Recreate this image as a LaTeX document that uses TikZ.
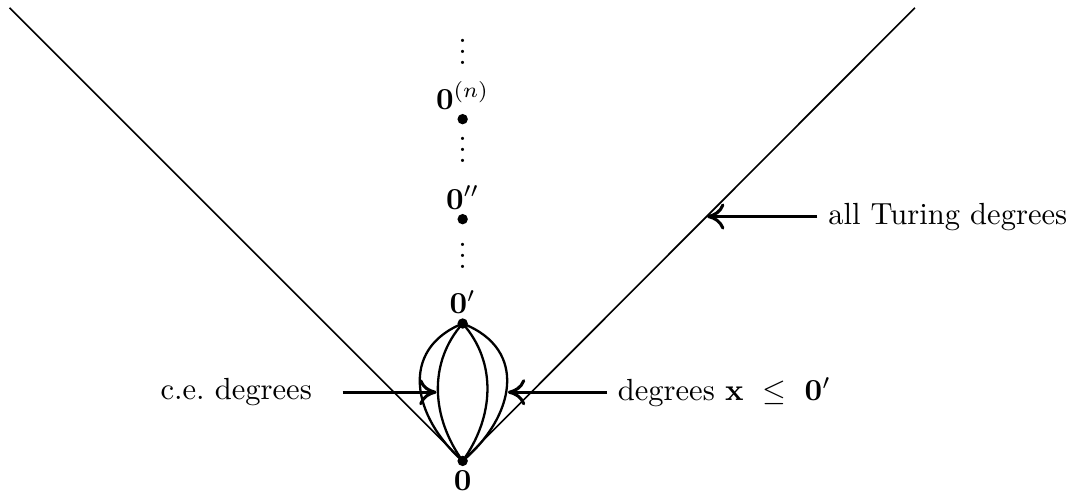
\documentclass[tikz,border=0pt]{standalone}
\usepackage{amsmath}
\usepackage{tikz}
\usetikzlibrary{arrows.meta, positioning}
\newcommand{\vdts}{\vbox{\baselineskip3.6pt\lineskiplimit0pt\hbox{.}\hbox{.}\hbox{.}}}

\begin{document}
\begin{tikzpicture}[
  deg/.style={circle, fill=black, inner sep=0pt, minimum size=3.4pt},
  lbl/.style={inner sep=1.2pt},
  dts/.style={inner sep=0pt},
  cone/.style={line width=0.55pt},
  lens/.style={line width=0.75pt},
  arr/.style={-{Computer Modern Rightarrow[length=2mm, width=3mm]}, line width=1pt}
]
  \useasboundingbox (-5.32,-0.41) rectangle (7.11,5.30);

  % degrees on the jump chain
  \node[deg] (zero) at (0,0) {};
  \node[deg] (jump) at (0,1.58) {};
  \node[deg] (jjump) at (0,2.78) {};
  \node[deg] (njump) at (0,3.93) {};

  \node[lbl, below=0pt of zero] (zerol) {$\mathbf{0}$};
  \node[lbl, above=0pt of jump] (jumpl) {$\mathbf{0}'$};
  \node[lbl, above=0pt of jjump] (jjumpl) {$\mathbf{0}''$};
  \node[lbl, above=0pt of njump] (njumpl) {$\mathbf{0}^{(n)}$};

  \node[dts] (vd1) at (0,2.36) {\vdts};
  \node[dts] (vd2) at (0,3.58) {\vdts};
  \node[dts] (vd3) at (0,4.70) {\vdts};

  % the cone
  \coordinate (lt) at (-5.21,5.21);
  \coordinate (rt) at (5.20,5.21);
  \draw[cone] (zero.center) -- (lt);
  \draw[cone] (zero.center) -- (rt);

  % c.e. degrees and degrees below 0'
  \draw[lens] (zero.center) .. controls +(-0.57,0.5) and +(-0.74,-0.3) .. (jump.center);
  \draw[lens] (zero.center) .. controls +(-0.36,0.5) and +(-0.4,-0.45) .. (jump.center);
  \draw[lens] (zero.center) .. controls +(0.36,0.5) and +(0.4,-0.45) .. (jump.center);
  \draw[lens] (zero.center) .. controls +(0.59,0.5) and +(0.77,-0.3) .. (jump.center);

  \coordinate (cetip) at (-0.30,0.79);
  \coordinate (lowtip) at (0.52,0.79);
  \coordinate (alltip) at (2.81,2.81);

  \node[anchor=east] (ce) at (-1.61,0.79) {c.e.\ degrees};
  \node[anchor=west] (low) at (1.66,0.79) {degrees $\mathbf{x}\ \leq\ \mathbf{0}'$};
  \node[anchor=west] (all) at (4.08,2.81) {all Turing degrees};

  \draw[arr, shorten <=6.5pt] (ce) -- (cetip);
  \draw[arr] (low) -- (lowtip);
  \draw[arr] (all) -- (alltip);
\end{tikzpicture}
\end{document}
